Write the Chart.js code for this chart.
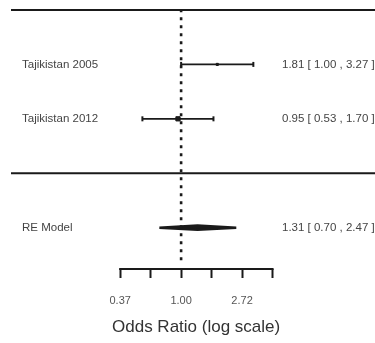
<!DOCTYPE html>
<html>
<head>
<meta charset="utf-8">
<script src="https://cdn.jsdelivr.net/npm/chart.js@4.4.0/dist/chart.umd.min.js"></script>
<style>
  html, body { margin: 0; padding: 0; background: #fff; }
  #wrap { width: 375px; height: 343px; }
</style>
</head>
<body>
<div id="wrap"><canvas id="forest"></canvas></div>
<script>
// study rows (odds ratios with 95% CI)
const studies = ['Tajikistan 2005', 'Tajikistan 2012'];
const estimates = [1.81, 0.95];
const lowerCI = [1.00, 0.53];
const upperCI = [3.27, 1.70];
const studyRows = [3, 2];
const markerSizes = [1.5, 3];

// random-effects summary
const summaryLabel = 'RE Model';
const summaryEst = 1.31;
const summaryLow = 0.70;
const summaryHigh = 2.47;
const summaryRow = 0;

// horizontal rules and axis ticks
const ruleRows = [4, 1];
const tickValues = [0.368, 0.607, 1.00, 1.649, 2.718, 4.482];
const tickLabels = ['0.37', '', '1.00', '', '2.72', ''];
const axisTitle = 'Odds Ratio (log scale)';

const X_MIN = -2.79, X_MAX = 3.18;
const Y_MIN = -0.76, Y_MAX = 4;
const INK = '#1a1a1a';
const FONT = '"Liberation Sans", Arial, sans-serif';

const fmt = v => v.toFixed(2);
const ln = Math.log;

const datasets = [];

// dotted line at OR = 1
datasets.push({
  data: [{x: 0, y: -0.6}, {x: 0, y: Y_MAX}],
  showLine: true, borderColor: INK, borderWidth: 2.6, borderDash: [3, 5],
  pointRadius: 0, clip: false
});

// horizontal rules
ruleRows.forEach(r => {
  datasets.push({
    data: [{x: X_MIN, y: r}, {x: X_MAX, y: r}],
    showLine: true, borderColor: INK, borderWidth: 2, pointRadius: 0, clip: false
  });
});

// confidence intervals and point estimates
studies.forEach((s, i) => {
  const y = studyRows[i];
  datasets.push({
    data: [{x: ln(lowerCI[i]), y}, {x: ln(upperCI[i]), y}],
    showLine: true, borderColor: INK, borderWidth: 1.8,
    pointStyle: 'line', rotation: 90, pointRadius: 2.5,
    pointBorderColor: INK, pointBorderWidth: 2, clip: false
  });
  datasets.push({
    data: [{x: ln(estimates[i]), y}],
    pointStyle: 'rect', pointRadius: markerSizes[i],
    backgroundColor: INK, borderColor: INK, borderWidth: 1, clip: false
  });
});

// summary diamond
const dh = 0.04;
datasets.push({
  data: [
    {x: ln(summaryLow), y: summaryRow},
    {x: ln(summaryEst), y: summaryRow + dh},
    {x: ln(summaryHigh), y: summaryRow},
    {x: ln(summaryEst), y: summaryRow - dh},
    {x: ln(summaryLow), y: summaryRow}
  ],
  showLine: true, fill: 'shape', tension: 0,
  borderColor: INK, backgroundColor: INK, borderWidth: 2.5, pointRadius: 0, clip: false
});

const textPlugin = {
  id: 'forestText',
  afterDraw(chart) {
    const {ctx, scales: {x, y}, chartArea} = chart;
    ctx.save();
    ctx.font = '11.5px ' + FONT;
    ctx.fillStyle = '#444';
    ctx.textBaseline = 'middle';
    ctx.textAlign = 'left';
    studies.forEach((s, i) => {
      const py = y.getPixelForValue(studyRows[i]);
      ctx.fillText(s, 22, py);
      ctx.fillText(fmt(estimates[i]) + ' [ ' + fmt(lowerCI[i]) + ' , ' + fmt(upperCI[i]) + ' ]', 282, py);
    });
    const sy = y.getPixelForValue(summaryRow);
    ctx.fillText(summaryLabel, 22, sy);
    ctx.fillText(fmt(summaryEst) + ' [ ' + fmt(summaryLow) + ' , ' + fmt(summaryHigh) + ' ]', 282, sy);

    // axis baseline only across the tick range
    const base = chartArea.bottom;
    ctx.strokeStyle = INK;
    ctx.lineWidth = 2;
    ctx.beginPath();
    ctx.moveTo(x.getPixelForValue(ln(tickValues[0])) - 1, base);
    ctx.lineTo(x.getPixelForValue(ln(tickValues[tickValues.length - 1])) + 1, base);
    ctx.stroke();

    // tick labels and axis title
    ctx.textAlign = 'center';
    ctx.fillStyle = '#555';
    ctx.font = '11px ' + FONT;
    tickValues.forEach((v, i) => {
      if (tickLabels[i]) ctx.fillText(tickLabels[i], x.getPixelForValue(ln(v)), base + 32);
    });
    ctx.fillStyle = '#333';
    ctx.font = '17px ' + FONT;
    ctx.fillText(axisTitle, x.getPixelForValue(ln(tickValues[2])) + 15, base + 58);
    ctx.restore();
  }
};

new Chart(document.getElementById('forest'), {
  type: 'scatter',
  data: { datasets },
  options: {
    responsive: true,
    maintainAspectRatio: false,
    animation: false,
    layout: { autoPadding: false, padding: { top: 10, left: 11, right: 0, bottom: 65 } },
    plugins: { legend: { display: false }, tooltip: { enabled: false } },
    elements: { line: { tension: 0 } },
    scales: {
      x: {
        type: 'linear', min: X_MIN, max: X_MAX,
        afterBuildTicks: scale => { scale.ticks = tickValues.map(v => ({ value: ln(v) })); },
        border: { display: false },
        grid: { drawOnChartArea: false, drawTicks: true, tickLength: 9, tickWidth: 2, tickColor: INK },
        ticks: { display: false },
        title: { display: false }
      },
      y: { type: 'linear', min: Y_MIN, max: Y_MAX, display: false }
    }
  },
  plugins: [textPlugin]
});
</script>
</body>
</html>
